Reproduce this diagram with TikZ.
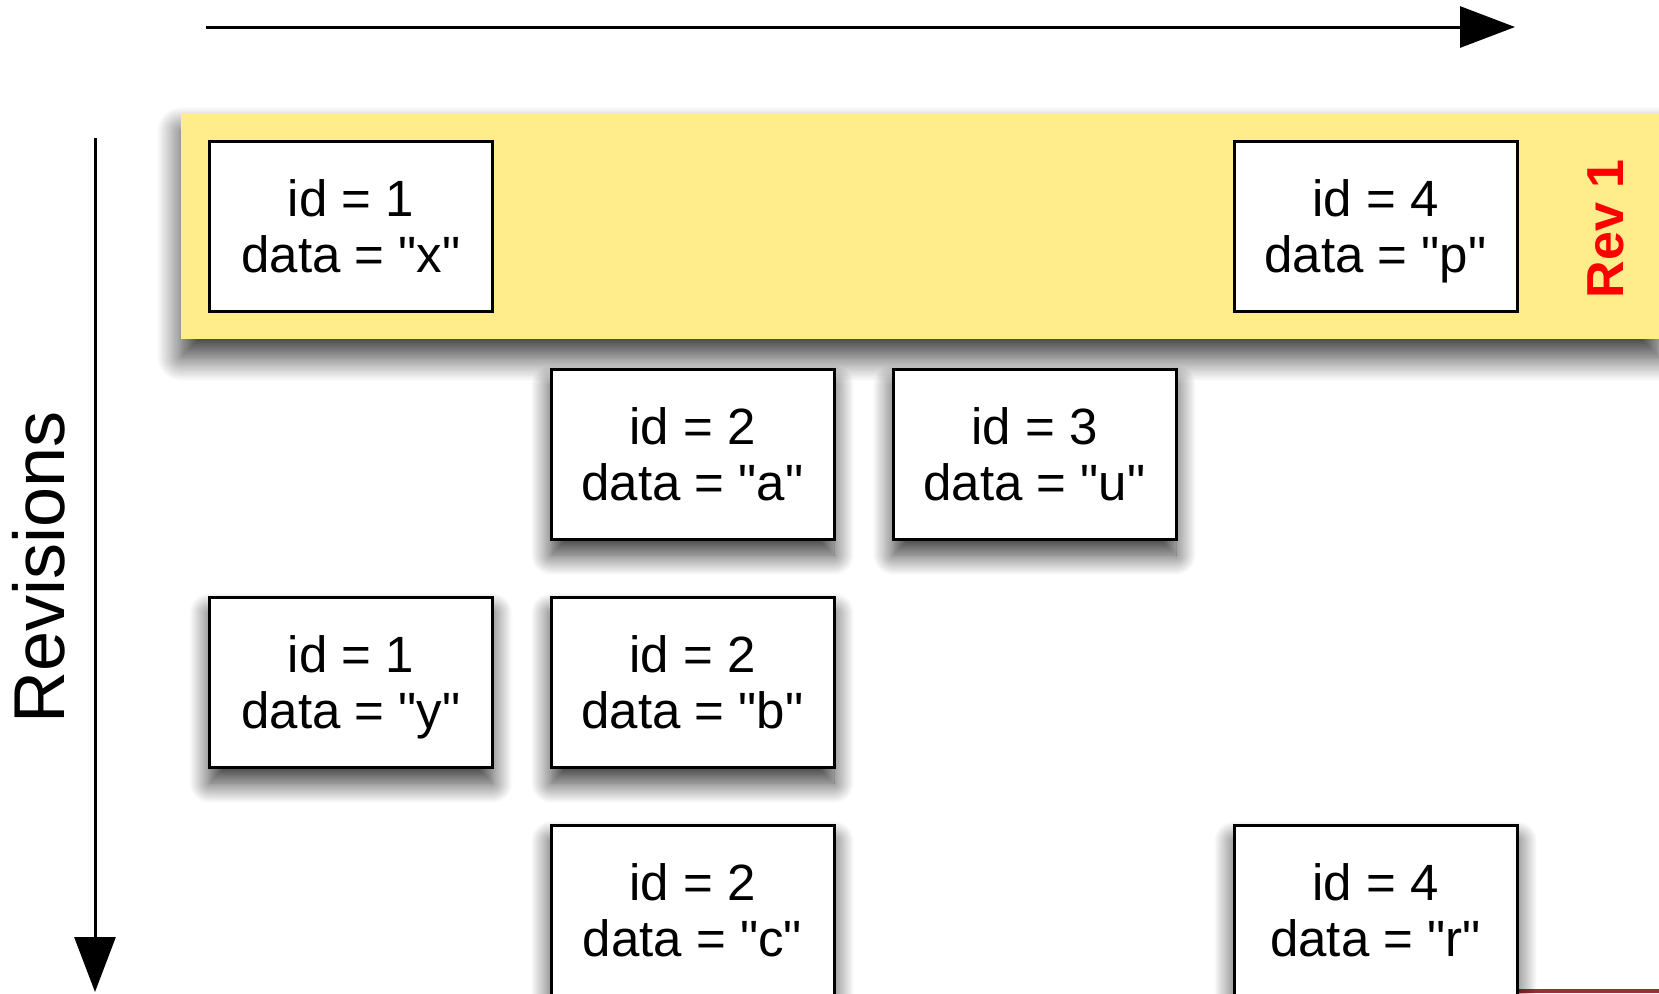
\documentclass[tikz,border=0pt]{standalone}
\usepackage{fontspec}
\setmainfont{Liberation Sans}
\newfontfamily\plainfont{Liberation Sans}
\usetikzlibrary{arrows.meta,shadows.blur}
\definecolor{bandyellow}{RGB}{255,237,139}
\definecolor{stripred}{RGB}{155,48,48}
\newcommand\qt{\char34\relax}
\newcommand\lbl[2]{\rule{0pt}{26.6pt}id = #1\\data = \qt#2\qt\strut}
\begin{document}
\begin{tikzpicture}[x=0.5pt,y=-0.5pt,
  rec/.style={draw=black, line width=1.5pt, fill=white, minimum width=141.5pt, minimum height=85pt,
    inner sep=0pt, align=center, font=\plainfont\fontsize{25.5}{28}\selectfont},
  shad/.style={blur shadow={shadow xshift=0pt, shadow yshift=-8pt, shadow blur radius=10pt, shadow blur steps=20, shadow opacity=80}},
  axis/.style={line width=1.5pt, draw=black, -{Triangle[length=27.5pt,width=20.5pt,color=black,fill=black]}}]
\useasboundingbox (0,0) rectangle (1659,993);
% axes
\coordinate (hs) at (206,27);
\coordinate (he) at (1515,27);
\coordinate (vs) at (95,138);
\coordinate (ve) at (95,992);
\draw[axis] (hs) -- (he);
\draw[axis] (vs) -- (ve);
\node[rotate=90, font=\plainfont\fontsize{36}{40}\selectfont] (revs) at (39,567) {Revisions};
% band
\fill[bandyellow, blur shadow={shadow xshift=0pt, shadow yshift=-9pt, shadow blur radius=12pt, shadow blur steps=20, shadow opacity=80}]
  (181,113) rectangle (1659,339);
\node[rotate=90, text=red, font=\plainfont\fontsize{26}{28}\selectfont\bfseries] (rev) at (1606,229) {Rev 1};
% strip
\fill[stripred] (1519,989) rectangle (1659,993);
% boxes
\node[rec] (x) at (351,226) {\lbl{1}{x}};
\node[rec] (p) at (1375.5,226) {\lbl{4}{p}};
\node[rec,shad] (a) at (692.5,454) {\lbl{2}{a}};
\node[rec,shad] (u) at (1034.5,454) {\lbl{3}{u}};
\node[rec,shad] (y) at (351,682) {\lbl{1}{y}};
\node[rec,shad] (b) at (692.5,682) {\lbl{2}{b}};
\node[rec,shad] (c) at (692.5,910) {\lbl{2}{c}};
\node[rec,shad] (r) at (1375.5,910) {\lbl{4}{r}};
\end{tikzpicture}
\end{document}
